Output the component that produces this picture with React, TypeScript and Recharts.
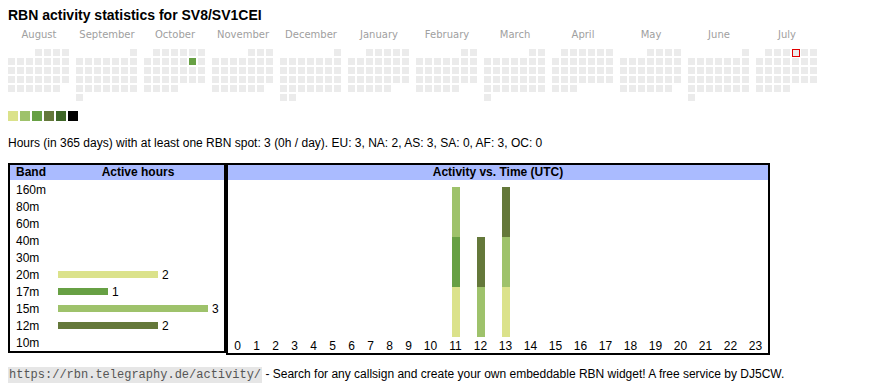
import React from 'react';
import { BarChart, Bar, XAxis, YAxis, Cell, LabelList, ScatterChart, Scatter } from 'recharts';

const TITLE = 'RBN activity statistics for SV8/SV1CEI';
const STATS = 'Hours (in 365 days) with at least one RBN spot: 3 (0h / day). EU: 3, NA: 2, AS: 3, SA: 0, AF: 3, OC: 0';
const FOOTER_URL = 'https://rbn.telegraphy.de/activity/';
const FOOTER_TEXT = ' - Search for any callsign and create your own embeddable RBN widget! A free service by DJ5CW.';

const MONTHS = ['August', 'September', 'October', 'November', 'December', 'January', 'February', 'March', 'April', 'May', 'June', 'July'];
const START_YEAR = 2024;
const START_MONTH = 7; // August, 0-based
const ACTIVE_DAYS = [{ date: '2024-10-12', hours: 3 }];
const TODAY = '2025-07-04';
const LEVEL_COLORS = ['#dbe28b', '#9ec26b', '#67a044', '#64783a', '#3e6627', '#000000'];
const EMPTY_COLOR = '#ebebeb';

const BANDS = ['160m', '80m', '60m', '40m', '30m', '20m', '17m', '15m', '12m', '10m'];
const BAND_HOURS = [0, 0, 0, 0, 0, 2, 1, 3, 2, 0];
const BAND_COLORS: Record<string, string> = { '20m': '#dbe28b', '17m': '#67a044', '15m': '#9ec26b', '12m': '#64783a' };

const HOURS = [0, 1, 2, 3, 4, 5, 6, 7, 8, 9, 10, 11, 12, 13, 14, 15, 16, 17, 18, 19, 20, 21, 22, 23];
const HOUR_20M = [0, 0, 0, 0, 0, 0, 0, 0, 0, 0, 0, 1, 0, 1, 0, 0, 0, 0, 0, 0, 0, 0, 0, 0];
const HOUR_17M = [0, 0, 0, 0, 0, 0, 0, 0, 0, 0, 0, 1, 0, 0, 0, 0, 0, 0, 0, 0, 0, 0, 0, 0];
const HOUR_15M = [0, 0, 0, 0, 0, 0, 0, 0, 0, 0, 0, 1, 1, 1, 0, 0, 0, 0, 0, 0, 0, 0, 0, 0];
const HOUR_12M = [0, 0, 0, 0, 0, 0, 0, 0, 0, 0, 0, 0, 1, 1, 0, 0, 0, 0, 0, 0, 0, 0, 0, 0];

const SANS = '"Liberation Sans", Arial, sans-serif';
const MONTH_PITCH = 68 / 9; // block of 7 day columns plus gap, in cell units

type DayCell = { x: number; y: number; date: string; hours: number; today: boolean };

function buildCalendar(): DayCell[] {
  const cells: DayCell[] = [];
  MONTHS.forEach((_, m) => {
    const year = START_YEAR + Math.floor((START_MONTH + m) / 12);
    const month = (START_MONTH + m) % 12;
    const firstDow = (new Date(Date.UTC(year, month, 1)).getUTCDay() + 6) % 7;
    const days = new Date(Date.UTC(year, month + 1, 0)).getUTCDate();
    for (let d = 1; d <= days; d++) {
      const idx = firstDow + d - 1;
      const date = `${year}-${String(month + 1).padStart(2, '0')}-${String(d).padStart(2, '0')}`;
      const act = ACTIVE_DAYS.find((a) => a.date === date);
      cells.push({
        x: m * MONTH_PITCH + (idx % 7) + 0.5,
        y: Math.floor(idx / 7) + 0.5,
        date,
        hours: act ? act.hours : 0,
        today: date === TODAY,
      });
    }
  });
  return cells;
}

const calendar = buildCalendar();
const monthTicks = MONTHS.map((_, m) => m * MONTH_PITCH + 32 / 9);

const DayShape = (p: any) => {
  const { cx, cy, payload } = p;
  const fill = payload.hours > 0 ? LEVEL_COLORS[Math.min(payload.hours, 6) - 1] : EMPTY_COLOR;
  if (payload.today) {
    return <rect x={cx - 3} y={cy - 3} width={7} height={7} fill={fill} stroke="#e00000" strokeWidth={1} />;
  }
  return <rect x={cx - 3.5} y={cy - 3.5} width={7} height={7} fill={fill} />;
};

const bandData = BANDS.map((band, i) => ({ band, hours: BAND_HOURS[i] }));

// hour columns sized like an auto-width table: width grows with the label's digit count
const colWidth = (h: number) => 6 * String(h).length + 13;
const hourPos = HOURS.map((h, i) => HOURS.slice(0, i).reduce((s, k) => s + colWidth(k), 0) + colWidth(h) / 2);
const hourData = HOURS.map((h, i) => ({
  hour: h,
  pos: hourPos[i],
  b20: HOUR_20M[i],
  b17: HOUR_17M[i],
  b15: HOUR_15M[i],
  b12: HOUR_12M[i],
}));
const TOTAL_W = HOURS.reduce((s, h) => s + colWidth(h), 0);

const BandTick = (p: any) => (
  <text x={6} y={p.y} dy="0.355em" fontSize={12} fontFamily={SANS} fill="#000">
    {p.payload.value}
  </text>
);

const headerStyle: React.CSSProperties = {
  position: 'absolute',
  left: 0,
  top: 0,
  height: 15,
  lineHeight: '15px',
  background: '#aabbff',
  fontWeight: 'bold',
  fontSize: 12,
  color: '#000',
};

export default function App() {
  return (
    <div style={{ position: 'absolute', left: 0, top: 0, width: 870, height: 390, fontFamily: SANS, background: '#fff', overflow: 'hidden' }}>
      <div style={{ position: 'absolute', left: 8, top: 7, fontSize: 14, lineHeight: '16px', fontWeight: 'bold', color: '#000', whiteSpace: 'nowrap' }}>
        {TITLE}
      </div>

      <div style={{ position: 'absolute', left: 7, top: 24 }}>
        <ScatterChart width={810} height={78} margin={{ top: 0, right: 0, bottom: 0, left: 0 }}>
          <XAxis
            type="number"
            dataKey="x"
            orientation="top"
            domain={[0, 90]}
            ticks={monthTicks}
            interval={0}
            height={24}
            axisLine={false}
            tickLine={false}
            tickSize={0}
            tickMargin={10}
            tickFormatter={(v: number) => MONTHS[Math.round((v - 32 / 9) / MONTH_PITCH)]}
            tick={{ fontSize: 10, fill: '#a0a0a0', fontFamily: '"DejaVu Sans", sans-serif' }}
          />
          <YAxis type="number" dataKey="y" domain={[0, 6]} reversed hide />
          <Scatter data={calendar} shape={DayShape} isAnimationActive={false} />
        </ScatterChart>
      </div>

      {LEVEL_COLORS.map((c, i) => (
        <div key={c} style={{ position: 'absolute', left: 8 + 12 * i, top: 111, width: 10, height: 10, background: c }} />
      ))}

      <div style={{ position: 'absolute', left: 8, top: 136, fontSize: 12, lineHeight: '14px', color: '#000', whiteSpace: 'nowrap' }}>
        {STATS}
      </div>

      <div style={{ position: 'absolute', left: 8, top: 163, width: 218, height: 190, border: '2px solid #000', boxSizing: 'border-box' }}>
        <div style={{ ...headerStyle, width: 214 }}>
          <span style={{ position: 'absolute', left: 6 }}>Band</span>
          <span style={{ position: 'absolute', left: 48, width: 160, textAlign: 'center' }}>Active hours</span>
        </div>
        <div style={{ position: 'absolute', left: 0, top: 16 }}>
          <BarChart layout="vertical" width={214} height={170} data={bandData} margin={{ top: 0, right: 16, bottom: 0, left: 0 }} barCategoryGap={0}>
            <XAxis type="number" hide domain={[0, 'dataMax']} />
            <YAxis type="category" dataKey="band" width={48} axisLine={false} tickLine={false} interval={0} tick={<BandTick />} />
            <Bar dataKey="hours" barSize={7} isAnimationActive={false}>
              {bandData.map((d) => (
                <Cell key={d.band} fill={BAND_COLORS[d.band] || '#cccccc'} />
              ))}
              <LabelList
                dataKey="hours"
                position="right"
                offset={4}
                formatter={(v: any) => (v ? v : '')}
                fill="#000"
                style={{ fontSize: 12, fontFamily: SANS }}
              />
            </Bar>
          </BarChart>
        </div>
      </div>

      <div style={{ position: 'absolute', left: 226, top: 163, width: 544, height: 192, border: '2px solid #000', boxSizing: 'border-box' }}>
        <div style={{ ...headerStyle, width: 540, textAlign: 'center' }}>Activity vs. Time (UTC)</div>
        <div style={{ position: 'absolute', left: 0, top: 16 }}>
          <BarChart width={TOTAL_W} height={172} data={hourData} margin={{ top: 6, right: 0, bottom: 0, left: 0 }}>
            <XAxis
              type="number"
              dataKey="pos"
              domain={[0, TOTAL_W]}
              ticks={hourPos}
              interval={0}
              height={16}
              axisLine={false}
              tickLine={false}
              tickSize={0}
              tickMargin={4}
              tickFormatter={(v: number) => String(HOURS[hourPos.indexOf(v)])}
              tick={{ fontSize: 12, fill: '#000', fontFamily: SANS }}
            />
            <YAxis hide domain={[0, 'dataMax']} />
            <Bar dataKey="b20" stackId="a" fill={BAND_COLORS['20m']} barSize={8} isAnimationActive={false} />
            <Bar dataKey="b17" stackId="a" fill={BAND_COLORS['17m']} barSize={8} isAnimationActive={false} />
            <Bar dataKey="b15" stackId="a" fill={BAND_COLORS['15m']} barSize={8} isAnimationActive={false} />
            <Bar dataKey="b12" stackId="a" fill={BAND_COLORS['12m']} barSize={8} isAnimationActive={false} />
          </BarChart>
        </div>
      </div>

      <div style={{ position: 'absolute', left: 8, top: 367, fontSize: 12, lineHeight: '14px', color: '#000', whiteSpace: 'nowrap' }}>
        <span style={{ fontFamily: '"Liberation Mono", monospace', fontSize: 12, background: '#e6e6e6', color: '#555', padding: '1px 1px' }}>{FOOTER_URL}</span>
        {FOOTER_TEXT}
      </div>
    </div>
  );
}
